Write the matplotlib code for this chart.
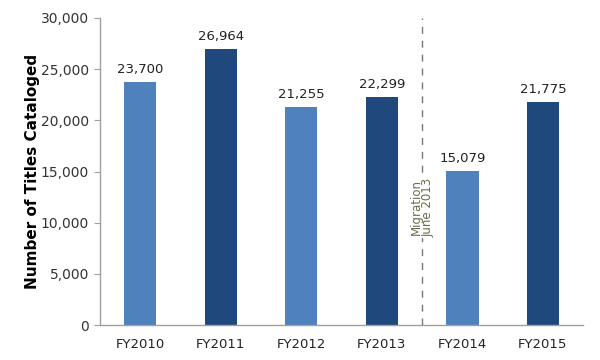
import matplotlib
matplotlib.use("Agg")
import matplotlib.pyplot as plt

categories = ["FY2010", "FY2011", "FY2012", "FY2013", "FY2014", "FY2015"]
values = [23700, 26964, 21255, 22299, 15079, 21775]
colors = ["#4F81BD", "#1F497D", "#4F81BD", "#1F497D", "#4F81BD", "#1F497D"]
yticks = [0, 5000, 10000, 15000, 20000, 25000, 30000]

plt.rcParams['font.family'] = ['DejaVu Sans']
fig = plt.figure(figsize=(6, 3.6), dpi=100)
ax = fig.add_axes([0.1667, 0.0972, 0.8053, 0.8528])

x = list(range(len(categories)))
ax.bar(x, values, width=0.4, color=colors, zorder=2)
for xi, v in zip(x, values):
    ax.text(xi, v + 600, f"{v:,}", ha="center", va="bottom", fontsize=9.5, color="#222222")

ax.set_xlim(-0.5, 5.5)
ax.set_ylim(0, 30000)
ax.set_yticks(yticks)
ax.set_yticklabels([f"{t:,}" for t in yticks], fontsize=10, color="#333333")
ax.set_xticks(x)
ax.set_xticklabels(categories, fontsize=9.5, color="#222222")
ax.tick_params(axis="x", length=0, pad=9)
ax.tick_params(axis="y", length=4, color="#A0A0A0", pad=4)
for s in ["top", "right"]:
    ax.spines[s].set_visible(False)
for s in ["left", "bottom"]:
    ax.spines[s].set_color("#A0A0A0")
    ax.spines[s].set_linewidth(1.0)

ax.axvline(3.5, color="#777777", linestyle=(0, (5, 5)), linewidth=1.0, zorder=1)
ax.text(3.5, 11500, "Migration\nJune 2013", rotation=90, ha="center", va="center",
        fontsize=8.5, color="#6B6B4E", linespacing=0.95,
        bbox=dict(facecolor="white", edgecolor="none", pad=0.5), zorder=3)

ax.set_ylabel("Number of Titles Cataloged", fontsize=11, fontweight="bold", color="#000000")
ax.yaxis.set_label_coords(-0.139, 0.5)
ax.yaxis.label.set_va("center")

fig.savefig("out.png", dpi=100)
